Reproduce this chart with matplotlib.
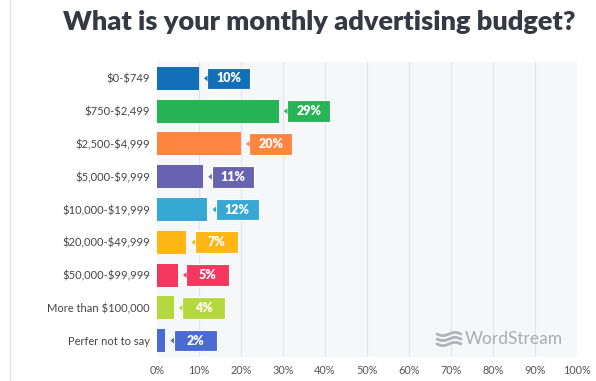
import numpy as np
import matplotlib
matplotlib.use("Agg")
import matplotlib.pyplot as plt
from matplotlib.patches import Polygon, Rectangle
from matplotlib.lines import Line2D

categories = ["$0-$749", "$750-$2,499", "$2,500-$4,999", "$5,000-$9,999",
              "$10,000-$19,999", "$20,000-$49,999", "$50,000-$99,999",
              "More than $100,000", "Perfer not to say"]
values = [10, 29, 20, 11, 12, 7, 5, 4, 2]
colors = ["#1170b8", "#27b456", "#ff8540", "#6763b0", "#35a9d4",
          "#fdb614", "#f3385f", "#b6d83f", "#4a6bd6"]
xticks = [0, 10, 20, 30, 40, 50, 60, 70, 80, 90, 100]
xticklabels = [f"{t}%" for t in xticks]
title = "What is your monthly advertising budget?"

plt.rcParams['font.family'] = ['Lato', 'DejaVu Sans']
plt.rcParams['text.parse_math'] = False

fig = plt.figure(figsize=(5.96, 3.81), dpi=100)
fig.patch.set_facecolor("white")
ax = fig.add_axes([157/596, 1-357/381, 420/596, 295/381])
ax.set_facecolor("#f6f7f9")

y = np.arange(len(categories))
ax.set_xlim(0, 100)
ax.set_ylim(len(categories) - 0.5, -0.5)
for t in xticks[1:-1]:
    ax.axvline(t, color="#e2e4e8", lw=0.8, zorder=0)

bh = 0.7
ax.barh(y, values, height=bh, color=colors, zorder=2)

box_w = 10.2
gap = 2.0
for yi, v, c in zip(y, values, colors):
    x0 = v + gap
    ax.add_patch(Rectangle((x0, yi - 0.33), box_w, 0.66, facecolor=c,
                           edgecolor="white", lw=0.8, zorder=3))
    ax.add_patch(Polygon([[x0 + 0.05, yi - 0.09], [x0 - 0.8, yi], [x0 + 0.05, yi + 0.09]],
                         closed=True, facecolor=c, edgecolor="none", zorder=3))
    ax.text(x0 + box_w / 2, yi, f"{v}%", color="white", fontsize=9,
            fontweight="heavy", ha="center", va="center", zorder=4)

ax.set_yticks(y)
ax.set_yticklabels(categories, fontsize=8, color="#444444")
ax.set_xticks(xticks)
ax.set_xticklabels(xticklabels, fontsize=7.8, color="#555555")
ax.tick_params(axis="y", length=0, pad=5)
ax.tick_params(axis="x", length=0, pad=6)
for s in ax.spines.values():
    s.set_visible(False)

fig.text(319/596, 1-22/381, title, ha="center", va="center", fontsize=19.5,
         fontweight="heavy", color="#363943")

# left border line
fig.add_artist(Line2D([10/596, 10/596], [0, 1], color="#e6e6e6", lw=1,
                      transform=fig.transFigure))

# WordStream logo
lx = np.linspace(437, 461, 40)
for k, yy in enumerate([334, 339, 344]):
    ly = yy + 1.6 * np.sin((lx - 437) / 24 * 2 * np.pi)
    fig.add_artist(Line2D(lx / 596, 1 - ly / 381, color="#b0b3b8", lw=2.0,
                          transform=fig.transFigure, solid_capstyle="round"))
fig.text(465/596, 1-339/381, "WordStream", ha="left", va="center",
         fontsize=12.5, color="#a9acb1")

fig.savefig("out.png", dpi=100)
